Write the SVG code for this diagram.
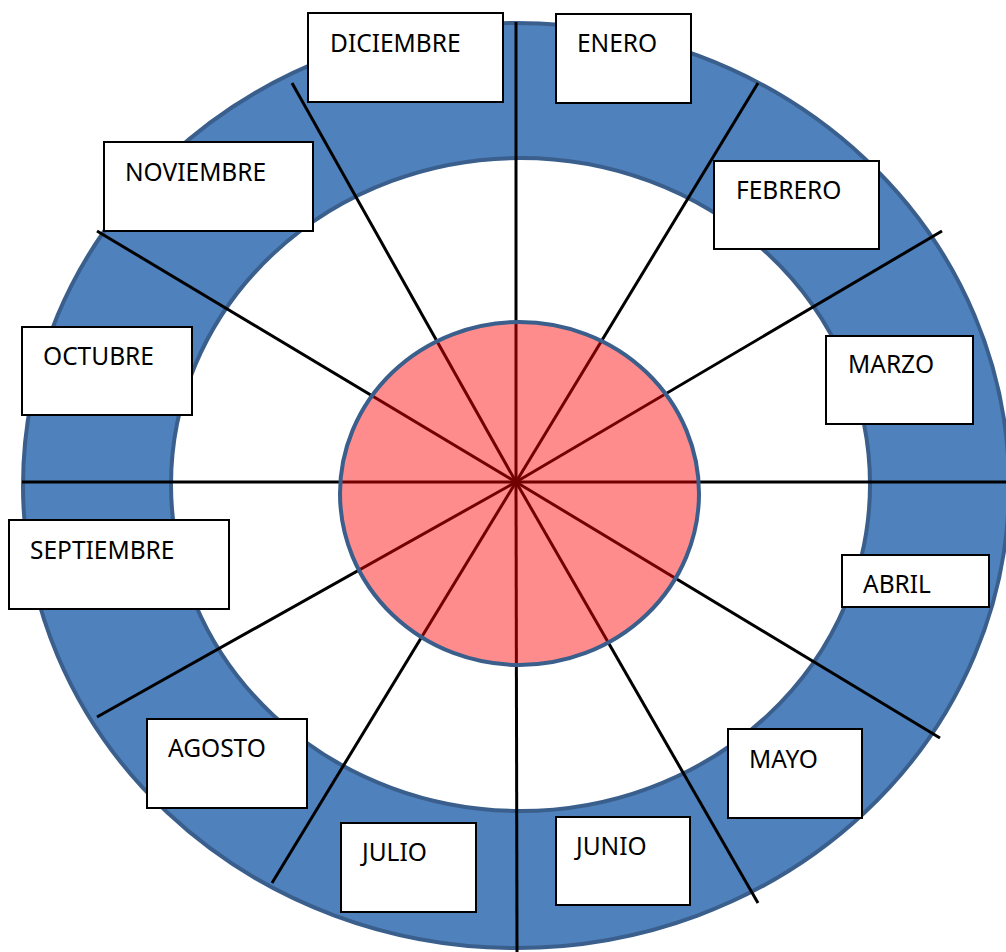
<svg xmlns="http://www.w3.org/2000/svg" width="1006" height="952" viewBox="0 0 1006 952">
<style>
.ring{fill:#4F81BD;stroke:#3A5F8C;stroke-width:4}
.inner{fill:#FFFFFF;stroke:#3A5F8C;stroke-width:4}
.hub{fill:#FF0000;fill-opacity:0.45;stroke:#3A5F8C;stroke-width:4}
.spoke{stroke:#000000;stroke-width:3;fill:none}
.box{fill:#FFFFFF;stroke:#000000;stroke-width:2}
.lbl{font-family:"Noto Sans","Open Sans",sans-serif;font-size:24.5px;fill:#000000}
</style>
<rect width="1006" height="952" fill="#FFFFFF"/>
<g id="outer-ring"><ellipse class="ring" cx="516" cy="485.5" rx="493" ry="462.5"/></g>
<g id="inner-ring"><ellipse class="inner" cx="520.5" cy="484.5" rx="349.5" ry="326.5"/></g>
<g id="connectors">
<line class="spoke" x1="516" y1="482" x2="516" y2="22"/>
<line class="spoke" x1="516" y1="482" x2="517" y2="952"/>
<line class="spoke" x1="516" y1="482" x2="22" y2="482"/>
<line class="spoke" x1="516" y1="482" x2="1006" y2="482"/>
<line class="spoke" x1="516" y1="482" x2="758" y2="83"/>
<line class="spoke" x1="516" y1="482" x2="942" y2="231"/>
<line class="spoke" x1="516" y1="482" x2="940" y2="738"/>
<line class="spoke" x1="516" y1="482" x2="758" y2="903"/>
<line class="spoke" x1="516" y1="482" x2="272" y2="883"/>
<line class="spoke" x1="516" y1="482" x2="97" y2="717"/>
<line class="spoke" x1="516" y1="482" x2="97" y2="231"/>
<line class="spoke" x1="516" y1="482" x2="292" y2="83"/>
</g>
<g id="hub"><ellipse class="hub" cx="519.5" cy="493.5" rx="179.5" ry="171.5"/></g>
<g id="diciembre"><rect class="box" x="308" y="13" width="195" height="89"/><text class="lbl" x="330" y="52">DICIEMBRE</text></g>
<g id="enero"><rect class="box" x="556" y="14" width="135" height="89"/><text class="lbl" x="577" y="52">ENERO</text></g>
<g id="febrero"><rect class="box" x="714" y="161" width="165" height="88"/><text class="lbl" x="736" y="199">FEBRERO</text></g>
<g id="marzo"><rect class="box" x="826" y="336" width="147" height="88"/><text class="lbl" x="848" y="373">MARZO</text></g>
<g id="abril"><rect class="box" x="842" y="555" width="147" height="52"/><text class="lbl" x="863" y="593">ABRIL</text></g>
<g id="mayo"><rect class="box" x="728" y="729" width="134" height="89"/><text class="lbl" x="749" y="768">MAYO</text></g>
<g id="junio"><rect class="box" x="556" y="817" width="134" height="88"/><text class="lbl" x="576" y="855">JUNIO</text></g>
<g id="julio"><rect class="box" x="341" y="823" width="135" height="89"/><text class="lbl" x="362" y="861">JULIO</text></g>
<g id="agosto"><rect class="box" x="147" y="719" width="160" height="89"/><text class="lbl" x="168" y="757">AGOSTO</text></g>
<g id="septiembre"><rect class="box" x="9" y="520" width="220" height="89"/><text class="lbl" x="30" y="559">SEPTIEMBRE</text></g>
<g id="octubre"><rect class="box" x="22" y="327" width="170" height="88"/><text class="lbl" x="43" y="365">OCTUBRE</text></g>
<g id="noviembre"><rect class="box" x="104" y="142" width="209" height="89"/><text class="lbl" x="125" y="181">NOVIEMBRE</text></g>
</svg>
